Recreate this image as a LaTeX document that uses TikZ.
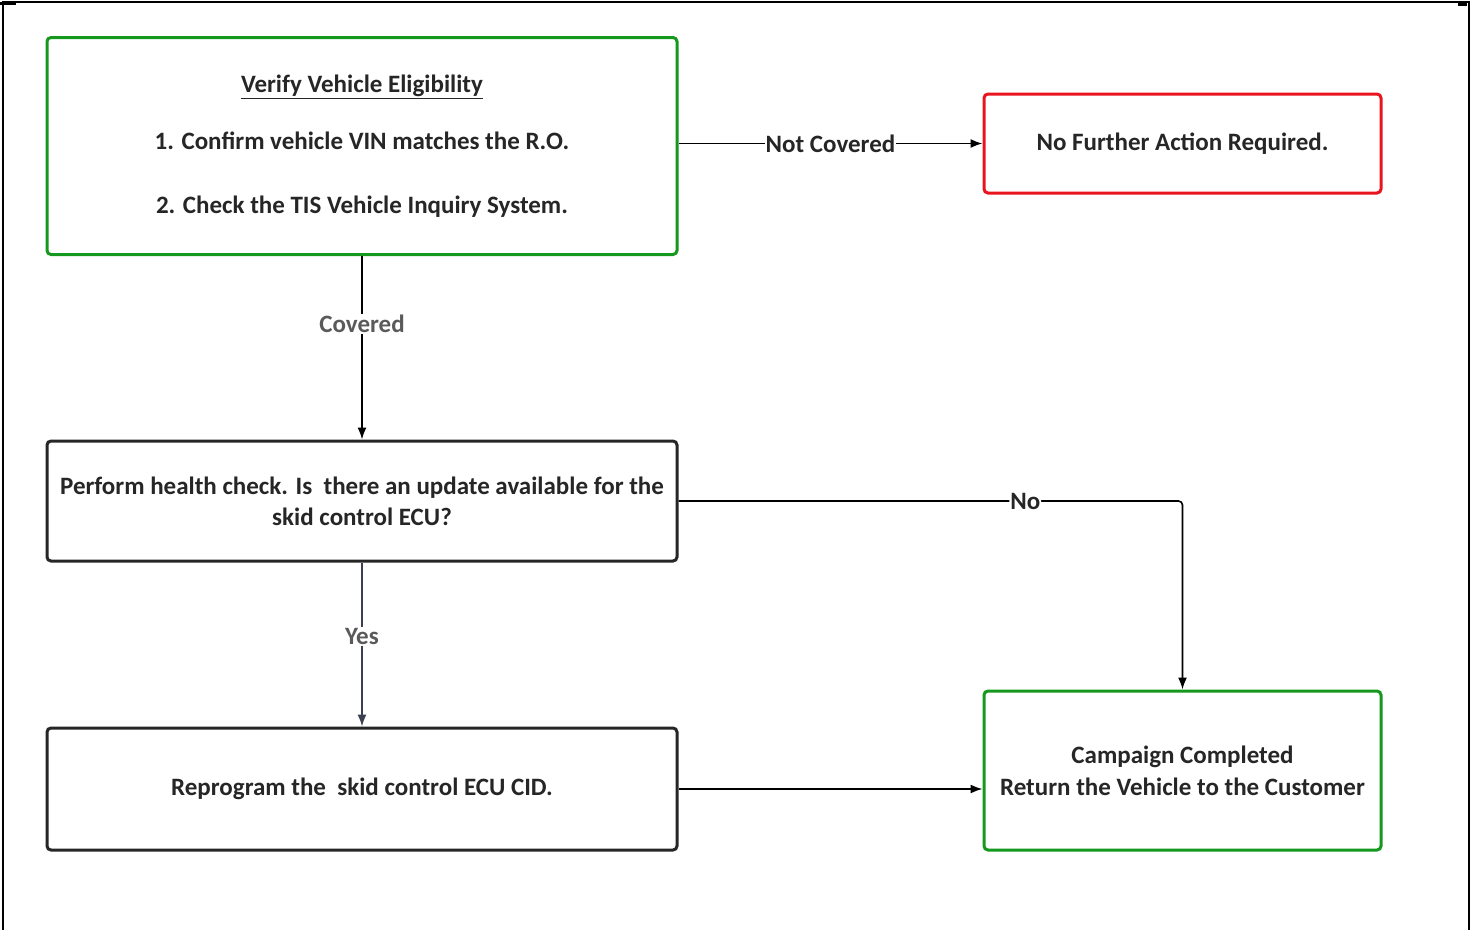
\documentclass[tikz,border=0pt]{standalone}
\usepackage{fontspec}
\setmainfont{Carlito}
\usetikzlibrary{arrows.meta}
\definecolor{boxgreen}{HTML}{14981E}
\definecolor{boxred}{HTML}{E8141E}
\definecolor{txt}{HTML}{262626}
\definecolor{lbl}{HTML}{5A5A5A}
\definecolor{slate}{HTML}{3A4050}
\tikzset{
  box/.style={draw, rectangle, rounded corners=4pt, line width=3pt, fill=white,
    align=center, text=txt, font=\bfseries\fontsize{25}{30}\selectfont, inner sep=0pt},
  greenbox/.style={box, draw=boxgreen},
  redbox/.style={box, draw=boxred},
  blackbox/.style={box, draw=black!85},
  conn/.style={draw=black, line width=1.6pt, -{Latex[length=12pt,width=9pt]}},
  lab/.style={fill=white, inner sep=1pt, font=\bfseries\fontsize{25}{30}\selectfont, text=txt},
  glab/.style={lab, text=lbl},
}
\begin{document}
\begin{tikzpicture}[x=1pt,y=-1pt]
\useasboundingbox (0,0) rectangle (1474,930);
% outer frame
\draw[line width=2pt] (3,930) -- (3,2) -- (1469,2) -- (1469,930);
\draw[line width=3pt] (0,3) -- (16,3);
\draw[line width=3pt] (1458,4) -- (1467,4);

\node[greenbox, minimum width=630pt, minimum height=217pt] (verify) at (362,146)
  {\underline{Verify Vehicle Eligibility}\\[27pt]
   1. Confirm vehicle VIN matches the R.O.\\[34pt]
   2. Check the TIS Vehicle Inquiry System.};
\node[redbox, minimum width=397pt, minimum height=99pt] (nofurther) at (1182.5,143.5)
  {No Further Action Required.};
\node[blackbox, minimum width=630pt, minimum height=120pt] (health) at (362,501)
  {Perform health check. Is\ \ there an update available for the\\[1pt]
   skid control ECU?};
\node[blackbox, minimum width=630pt, minimum height=122pt] (reprog) at (362,789)
  {Reprogram the\ \ skid control ECU CID.};
\node[greenbox, minimum width=397pt, minimum height=159pt] (done) at (1182.5,770.5)
  {Campaign Completed\\[2pt]
   Return the Vehicle to the Customer};

\draw[conn] (verify.east |- nofurther.west) -- node[lab, pos=0.5] {Not Covered} (nofurther.west);
\draw[conn] (verify.south) -- node[glab, pos=0.37] {Covered} (health.north);
\draw[conn, rounded corners=4pt] (health.east) -| node[lab, pos=0.344] {No} (done.north);
\draw[conn, draw=slate] (health.south) -- node[glab, pos=0.45] {Yes} (reprog.north);
\draw[conn] (reprog.east) -- (done.west |- reprog.east);
\end{tikzpicture}
\end{document}
